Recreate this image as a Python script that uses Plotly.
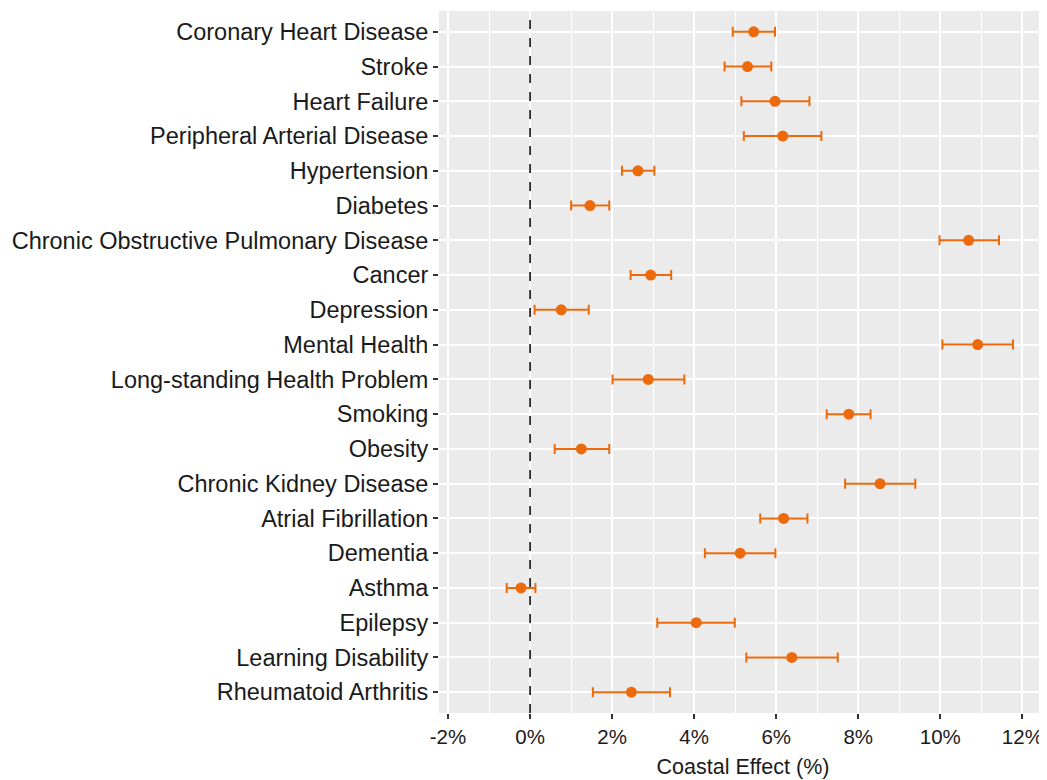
import plotly.graph_objects as go

ORANGE = "#EC6A0C"
PANEL = "#EBEBEB"
INK = "#1A1A1A"

conditions = [
    "Coronary Heart Disease", "Stroke", "Heart Failure", "Peripheral Arterial Disease",
    "Hypertension", "Diabetes", "Chronic Obstructive Pulmonary Disease", "Cancer",
    "Depression", "Mental Health", "Long-standing Health Problem", "Smoking",
    "Obesity", "Chronic Kidney Disease", "Atrial Fibrillation", "Dementia",
    "Asthma", "Epilepsy", "Learning Disability", "Rheumatoid Arthritis",
]
effect = [5.45, 5.30, 5.97, 6.16, 2.63, 1.46, 10.69, 2.94, 0.76, 10.91,
          2.88, 7.77, 1.25, 8.53, 6.18, 5.12, -0.22, 4.05, 6.38, 2.47]
ci_low = [4.94, 4.74, 5.15, 5.21, 2.24, 1.00, 9.98, 2.45, 0.11, 10.05,
          2.01, 7.23, 0.60, 7.68, 5.61, 4.26, -0.57, 3.10, 5.27, 1.53]
ci_high = [5.97, 5.88, 6.81, 7.10, 3.03, 1.93, 11.43, 3.44, 1.43, 11.77,
           3.76, 8.30, 1.93, 9.39, 6.76, 5.98, 0.13, 4.99, 7.50, 3.41]

x_ticks = [-2, 0, 2, 4, 6, 8, 10, 12]
x_labels = [f"{t}%" for t in x_ticks]

fig = go.Figure(go.Scatter(
    x=effect, y=conditions, mode="markers",
    marker=dict(color=ORANGE, size=11),
    error_x=dict(
        type="data", symmetric=False,
        array=[h - e for h, e in zip(ci_high, effect)],
        arrayminus=[e - l for e, l in zip(effect, ci_low)],
        color=ORANGE, thickness=2, width=5,
    ),
    showlegend=False,
))

fig.add_vline(x=0, line_dash="dash", line_color="black", line_width=1.5)

# page body has an 8px margin, so the figure is sized to fit inside it
fig.update_layout(
    width=1039, height=772,
    margin=dict(l=431, r=0, t=3, b=67),
    paper_bgcolor="white",
    plot_bgcolor=PANEL,
    font=dict(family="Liberation Sans, Arial, sans-serif", size=19, color=INK),
    xaxis=dict(
        range=[-2.22, 12.6], tickvals=x_ticks, ticktext=x_labels,
        showgrid=True, gridcolor="white", gridwidth=2, zeroline=False,
        ticks="outside", ticklen=5, tickwidth=1.5, tickcolor="#333333",
        tickfont=dict(size=20.5, color=INK),
        minor=dict(dtick=1, tick0=-1, showgrid=True, gridcolor="white", gridwidth=1),
        title=dict(text="Coastal Effect (%)", font=dict(size=21.5, color=INK), standoff=12),
        showline=False,
    ),
    yaxis=dict(
        type="category", categoryorder="array", categoryarray=conditions,
        range=[19.6, -0.6],
        showgrid=True, gridcolor="white", gridwidth=2, zeroline=False,
        ticks="outside", ticklen=5, tickwidth=1.5, tickcolor="#333333",
        tickfont=dict(size=23.5, color=INK),
        showline=False,
    ),
)

fig.write_html("out.html")
